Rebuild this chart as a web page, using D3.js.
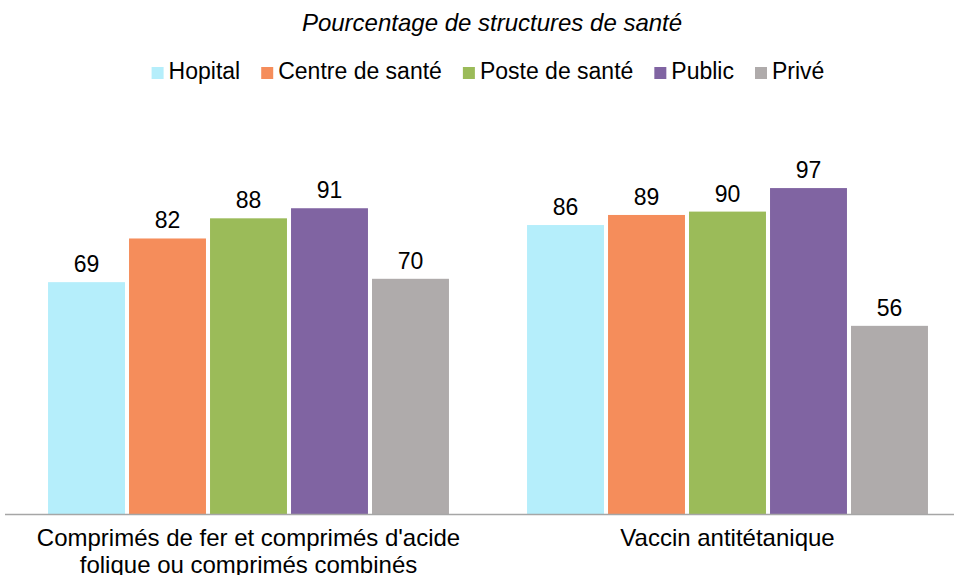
<!DOCTYPE html>
<html>
<head>
<meta charset="utf-8">
<script src="https://cdn.jsdelivr.net/npm/d3@7"></script>
<style>
    body { margin: 0; background: #fff; }
    #space { width: 954px; height: 575px; }
    text { font-family: "Liberation Sans", Arial, sans-serif; fill: #000; }
</style>
</head>
<body>
<div id="space"></div>
<script>
var categories = ["Comprimés de fer et comprimés d'acide|folique ou comprimés combinés", "Vaccin antitétanique"];
var series = ["Hopital", "Centre de santé", "Poste de santé", "Public", "Privé"];
var colors = ["#B5EEFB", "#F58D5B", "#9BBB59", "#8064A2", "#AFABAB"];
var hopital = [69, 86];
var centre = [82, 89];
var poste = [88, 90];
var publicV = [91, 97];
var prive = [70, 56];
var values = [hopital, centre, poste, publicV, prive];
var title = "Pourcentage de structures de santé";

var svg;

function initSvg() {
    svg = d3.select("#space").append("svg")
        .attr("width", 954)
        .attr("height", 575);
    svg.append("g").attr("id", "rect");
    svg.append("g").attr("id", "path");
    svg.append("g").attr("id", "text");
}

function drawChart() {
    var y = d3.scaleLinear().domain([0, 100]).range([514, 178]);

    var x0 = d3.scaleBand().domain(categories)
        .range([9, 967])
        .paddingInner(0.163)
        .paddingOuter(0.0815);

    var x1 = d3.scaleBand().domain(series)
        .range([0, x0.bandwidth()])
        .paddingInner(0.05)
        .paddingOuter(0);

    var color = d3.scaleOrdinal().domain(series).range(colors);

    //Bars
    var groups = svg.select("#rect").selectAll("g.grp")
        .data(categories)
        .enter().append("g")
        .attr("class", "grp")
        .attr("transform", function (d) { return "translate(" + x0(d) + ",0)"; });

    groups.selectAll("rect")
        .data(function (d, i) { return series.map(function (s, j) { return { s: s, v: values[j][i] }; }); })
        .enter().append("rect")
        .attr("x", function (d) { return x1(d.s); })
        .attr("y", function (d) { return y(d.v); })
        .attr("width", x1.bandwidth())
        .attr("height", function (d) { return y(0) - y(d.v); })
        .attr("fill", function (d) { return color(d.s); });

    groups.selectAll("text")
        .data(function (d, i) { return series.map(function (s, j) { return { s: s, v: values[j][i] }; }); })
        .enter().append("text")
        .attr("x", function (d) { return x1(d.s) + x1.bandwidth() / 2; })
        .attr("y", function (d) { return y(d.v) - 10; })
        .attr("text-anchor", "middle")
        .attr("font-size", "23px")
        .text(function (d) { return d.v; });

    //Axis line
    svg.select("#path").append("line")
        .attr("x1", 5).attr("x2", 954)
        .attr("y1", y(0) + 0.5).attr("y2", y(0) + 0.5)
        .attr("stroke", "#A6A6A6")
        .attr("stroke-width", 1.5);

    //Category labels
    categories.forEach(function (c) {
        var lines = c.split("|");
        var t = svg.select("#text").append("text")
            .attr("text-anchor", "middle")
            .attr("font-size", "24px");
        lines.forEach(function (l, k) {
            t.append("tspan")
                .attr("x", x0(c) + x0.bandwidth() / 2)
                .attr("y", 546 + k * 27)
                .text(l);
        });
    });

    //Title
    svg.select("#text").append("text")
        .attr("x", 492)
        .attr("y", 31)
        .attr("text-anchor", "middle")
        .attr("font-size", "24px")
        .attr("font-style", "italic")
        .text(title);

    drawLegend(color);
}

function drawLegend(color) {
    var lg = svg.select("#text").append("g");
    var cx = 0;
    series.forEach(function (s) {
        lg.append("rect")
            .attr("x", cx).attr("y", -12)
            .attr("width", 12).attr("height", 12)
            .attr("fill", color(s));
        var t = lg.append("text")
            .attr("x", cx + 17)
            .attr("y", 0)
            .attr("font-size", "23px")
            .text(s);
        cx += 17 + t.node().getComputedTextLength() + 21;
    });
    var w = cx - 21;
    lg.attr("transform", "translate(" + (488 - w / 2) + ",79)");
}

initSvg();
drawChart();
</script>
</body>
</html>
